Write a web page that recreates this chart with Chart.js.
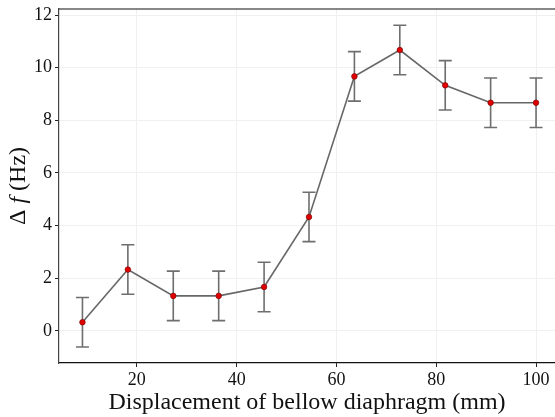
<!DOCTYPE html>
<html>
<head>
<meta charset="utf-8">
<script src="https://cdn.jsdelivr.net/npm/chart.js@4"></script>
<style>
  html, body { margin: 0; padding: 0; background: #fff; }
  #wrap { width: 555px; height: 417px; }
</style>
</head>
<body>
<div id="wrap"><canvas id="chart"></canvas></div>
<script>
var displacement = [9.1, 18.2, 27.3, 36.4, 45.5, 54.5, 63.6, 72.7, 81.8, 90.9, 100];
var deltaF = [0.33, 2.33, 1.33, 1.33, 1.67, 4.33, 9.67, 10.67, 9.33, 8.67, 8.67];
var errors = [0.94, 0.94, 0.94, 0.94, 0.94, 0.94, 0.94, 0.94, 0.94, 0.94, 0.94];
var xTicks = [20, 40, 60, 80, 100];
var yTicks = [0, 2, 4, 6, 8, 10, 12];

var serif = "'Liberation Serif', 'DejaVu Serif', serif";

var points = displacement.map(function (x, i) { return { x: x, y: deltaF[i] }; });

// error bars with caps, drawn under the line
var errorBars = {
    id: 'errorBars',
    beforeDatasetsDraw: function (chart) {
        var ctx = chart.ctx, xs = chart.scales.x, ys = chart.scales.y;
        ctx.save();
        ctx.strokeStyle = 'rgba(85,85,85,0.85)';
        ctx.lineWidth = 1.6;
        displacement.forEach(function (x, i) {
            var px = xs.getPixelForValue(x);
            var top = ys.getPixelForValue(deltaF[i] + errors[i]);
            var bot = ys.getPixelForValue(deltaF[i] - errors[i]);
            ctx.beginPath();
            ctx.moveTo(px, top); ctx.lineTo(px, bot);
            ctx.moveTo(px - 6.5, top); ctx.lineTo(px + 6.5, top);
            ctx.moveTo(px - 6.5, bot); ctx.lineTo(px + 6.5, bot);
            ctx.stroke();
        });
        ctx.restore();
    }
};

// top spine and the y title with an italic f
var extras = {
    id: 'extras',
    afterDraw: function (chart) {
        var ctx = chart.ctx, a = chart.chartArea;
        ctx.save();
        ctx.strokeStyle = '#111';
        ctx.lineWidth = 1.2;
        ctx.beginPath();
        ctx.moveTo(a.left, a.top); ctx.lineTo(a.right, a.top);
        ctx.stroke();

        var parts = [
            { t: '\u0394 ', f: '24px ' + serif },
            { t: 'f', f: 'italic 24px ' + serif },
            { t: ' (Hz)', f: '24px ' + serif }
        ];
        var total = 0;
        parts.forEach(function (p) { ctx.font = p.f; p.w = ctx.measureText(p.t).width; total += p.w; });
        ctx.translate(19, (a.top + a.bottom) / 2);
        ctx.rotate(-Math.PI / 2);
        ctx.fillStyle = '#111';
        ctx.textBaseline = 'middle';
        var x = -total / 2;
        parts.forEach(function (p) { ctx.font = p.f; ctx.fillText(p.t, x, 0); x += p.w; });
        ctx.restore();
    }
};

new Chart(document.getElementById('chart'), {
    type: 'scatter',
    data: {
        datasets: [{
            data: points,
            showLine: true,
            borderColor: 'rgba(85,85,85,0.9)',
            borderWidth: 1.6,
            pointBackgroundColor: '#e00000',
            pointBorderColor: '#700000',
            pointBorderWidth: 0.6,
            pointRadius: 2.8
        }]
    },
    options: {
        responsive: true,
        maintainAspectRatio: false,
        animation: false,
        layout: { autoPadding: false, padding: { top: 9, right: 0, left: 0, bottom: 0 } },
        plugins: { legend: { display: false }, tooltip: { enabled: false } },
        scales: {
            x: {
                type: 'linear',
                min: 4.4,
                max: 103.8,
                afterBuildTicks: function (s) { s.ticks = xTicks.map(function (v) { return { value: v }; }); },
                afterFit: function (s) { s.height = 54; s.paddingLeft = 0; s.paddingRight = 0; },
                grid: { color: '#f0f0f0', tickColor: '#222', tickLength: 4 },
                border: { color: '#111', width: 1.2 },
                ticks: { color: '#111', padding: 2, font: { family: serif, size: 18 } },
                title: {
                    display: true,
                    text: 'Displacement of bellow diaphragm (mm)',
                    color: '#111',
                    padding: { top: 2, bottom: 0 },
                    font: { family: serif, size: 24 }
                }
            },
            y: {
                min: -1.22,
                max: 12.23,
                afterBuildTicks: function (s) { s.ticks = yTicks.map(function (v) { return { value: v }; }); },
                afterFit: function (s) { s.width = 59; s.paddingTop = 0; s.paddingBottom = 0; },
                grid: { color: '#f0f0f0', tickColor: '#222', tickLength: 4 },
                border: { color: '#444', width: 1.2 },
                ticks: { color: '#111', padding: 3, font: { family: serif, size: 18 } }
            }
        }
    },
    plugins: [errorBars, extras]
});
</script>
</body>
</html>
